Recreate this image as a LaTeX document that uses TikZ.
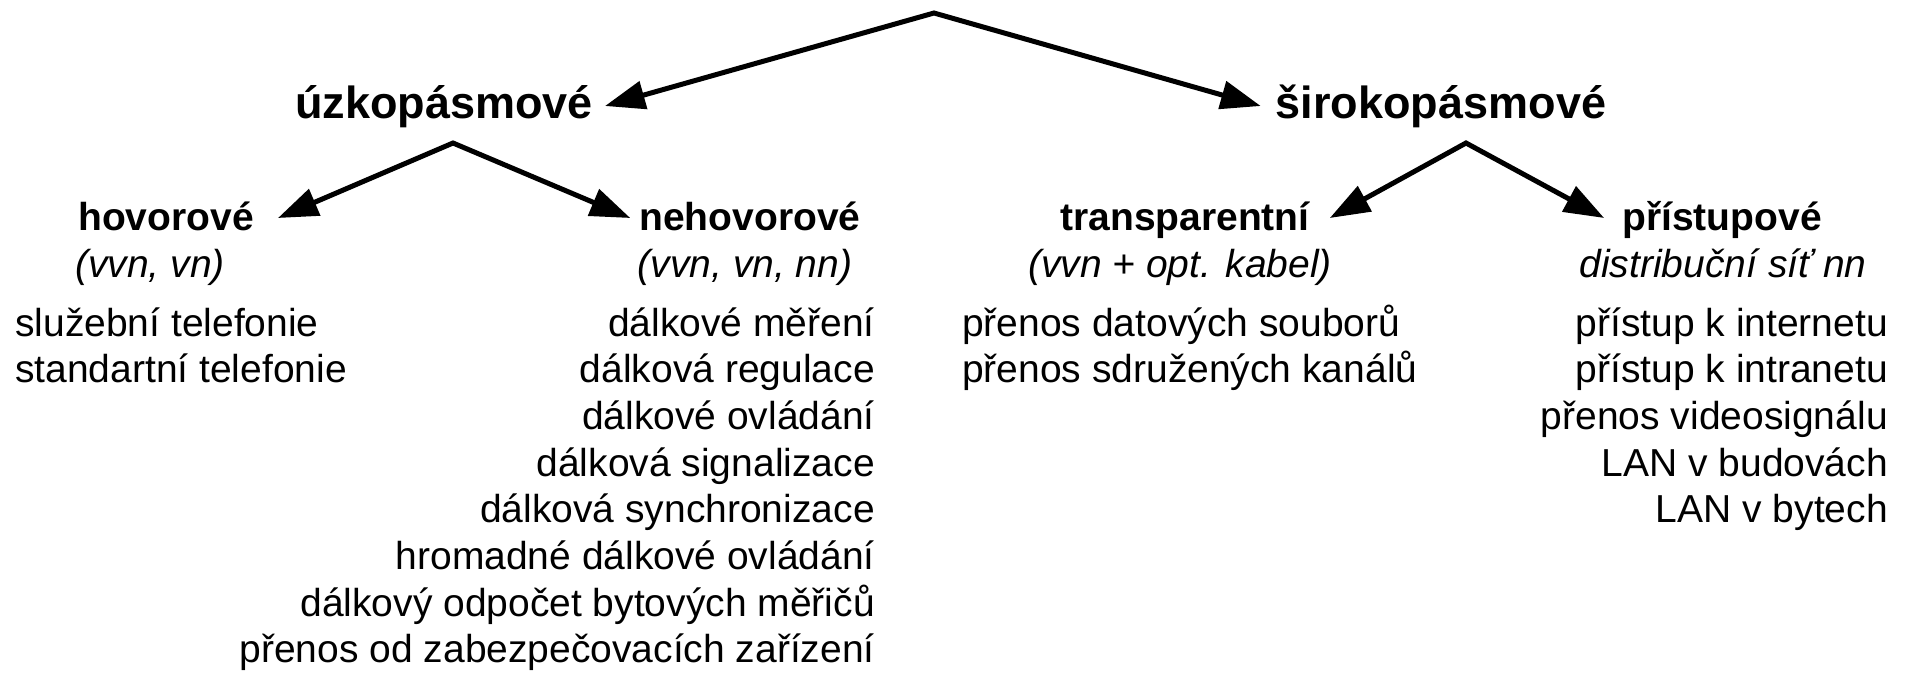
\documentclass[tikz,border=0pt]{standalone}
\usepackage{fontspec}
\setmainfont{Liberation Sans}
\usetikzlibrary{arrows.meta}

\begin{document}
\begin{tikzpicture}[x=1pt,y=-1pt,
        hlavni/.style={font={\fontsize{45}{54}\selectfont\bfseries},inner sep=0pt,anchor=base,text height=32pt,text depth=8pt},
        druh/.style={font={\fontsize{39}{47}\selectfont\bfseries},inner sep=0pt,anchor=base,text height=32pt,text depth=8pt},
        sit/.style={font={\fontsize{39}{47}\selectfont\itshape},inner sep=0pt,anchor=base},
        seznam/.style={font={\fontsize{39}{46.7}\selectfont},inner sep=0pt},
        sipka/.style={line width=5pt,{Triangle[length=40pt,width=28pt]}-{Triangle[length=40pt,width=28pt]}}]
    \useasboundingbox (0,0) rectangle (1910,673);
    % vrcholy
    \coordinate (vrch) at (934,13);
    \coordinate (vrchU) at (453,143);
    \coordinate (vrchS) at (1466,143);
    % nadpisy
    \node[hlavni] (uzko) at (444,118) {úzkopásmové};
    \node[hlavni] (siroko) at (1441,118) {širokopásmové};
    \node[druh] (hovor) at (166,230) {hovorové};
    \node[druh] (nehovor) at (750,230) {nehovorové};
    \node[druh] (transp) at (1185,230) {transparentní};
    \node[druh] (pristup) at (1722,230) {přístupové};
    \node[sit] (hovorSit) at (150,277) {(vvn, vn)};
    \node[sit] (nehovorSit) at (745,277) {(vvn, vn, nn)};
    \node[sit] (transpSit) at (1180,277) {(vvn + opt. kabel)};
    \node[sit] (pristupSit) at (1723,277) {distribuční síť nn};
    % seznamy (base = posledni radek)
    \node[seznam,anchor=base west,align=left] (hovorSez) at (15,382.7)
        {služební telefonie\\standartní telefonie};
    \node[seznam,anchor=base east,align=right] (nehovorSez) at (875,662.9)
        {dálkové měření\\dálková regulace\\dálkové ovládání\\dálková signalizace\\dálková synchronizace\\hromadné dálkové ovládání\\dálkový odpočet bytových měřičů\\přenos od zabezpečovacích zařízení};
    \node[seznam,anchor=base west,align=left] (transpSez) at (962,382.7)
        {přenos datových souborů\\přenos sdružených kanálů};
    \node[seznam,anchor=base east,align=right] (pristupSez) at (1888,522.8)
        {přístup k internetu\\přístup k intranetu\\přenos videosignálu\\LAN v budovách\\LAN v bytech};
    % sipky
    \draw[sipka] ([xshift=12pt]uzko.east) -- (vrch) -- ([xshift=-15pt]siroko.west);
    \draw[sipka] ([xshift=24pt]hovor.east) -- (vrchU) -- ([xshift=-9pt]nehovor.west);
    \draw[sipka] ([xshift=20pt]transp.east) -- (vrchS) -- ([xshift=-18pt]pristup.west);
\end{tikzpicture}
\end{document}
